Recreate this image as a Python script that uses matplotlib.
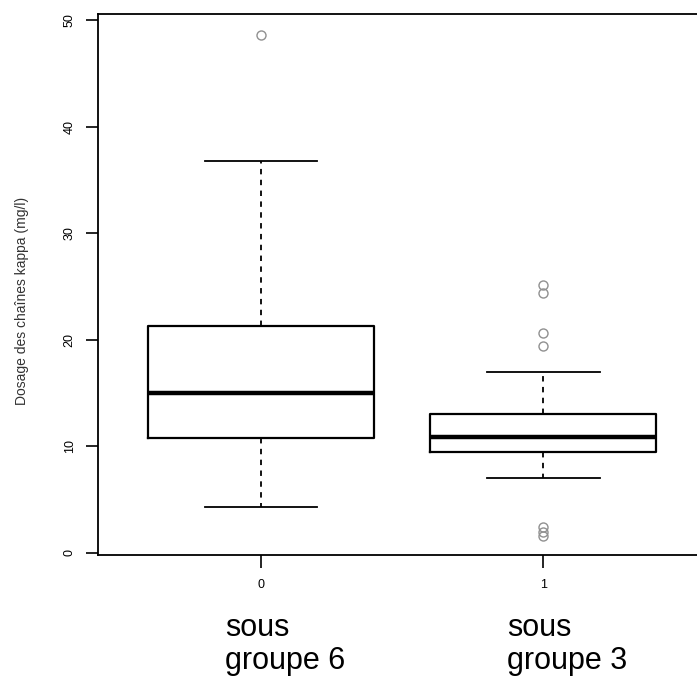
import matplotlib
matplotlib.use("Agg")
import matplotlib.pyplot as plt

plt.rcParams['font.family'] = ['Liberation Sans', 'DejaVu Sans']

# Box statistics (mg/l)
groups = ["0", "1"]
name_top = ["sous", "sous"]
name_bottom = ["groupe 6", "groupe 3"]
q1 = [10.8, 9.5]
med = [15.0, 10.9]
q3 = [21.3, 13.0]
whislo = [4.3, 7.0]
whishi = [36.8, 17.0]
fliers = [[48.6], [25.1, 24.4, 20.6, 19.4, 2.4, 2.0, 1.6]]

stats = []
for i in range(len(groups)):
    stats.append({"label": groups[i], "q1": q1[i], "med": med[i], "q3": q3[i],
                  "whislo": whislo[i], "whishi": whishi[i], "fliers": fliers[i]})

fig = plt.figure(figsize=(6.97, 6.76), dpi=100)
ax = fig.add_axes([98 / 697, 121 / 676, 620 / 697, 541 / 676])

ax.bxp(stats, positions=[0, 1], widths=0.8,
       boxprops=dict(color="black", linewidth=1.6),
       medianprops=dict(color="black", linewidth=3.2),
       whiskerprops=dict(color="black", linewidth=1.3, linestyle=(0, (3, 3))),
       capprops=dict(color="black", linewidth=1.3),
       flierprops=dict(marker="o", markerfacecolor="none", markeredgecolor="#909090",
                       markersize=6.5, markeredgewidth=1.0),
       capwidths=0.4)

ax.set_xlim(-0.578, 1.62)
ax.set_ylim(-0.19, 50.56)
ax.set_yticks([0, 10, 20, 30, 40, 50])
ax.set_yticklabels(["0", "10", "20", "30", "40", "50"], rotation=90, va="center")
ax.set_xticks([0, 1])
ax.set_xticklabels(groups)
ax.tick_params(axis="both", length=9, width=1.2, labelsize=9, colors="black", pad=7)
ax.tick_params(axis="x", pad=8)
for s in ax.spines.values():
    s.set_linewidth(1.3)

ax.set_ylabel("Dosage des chaînes kappa (mg/l)", fontsize=10, color="#333333")
ax.yaxis.set_label_coords(-0.112, 0.47)

# group names under the tick labels, two lines each
for i in range(len(groups)):
    x_fig = ax.transData.transform((i - 0.128, 0))[0] / fig.dpi / fig.get_figwidth()
    fig.text(x_fig, (676 - 636) / 676, name_top[i], fontsize=22, ha="left", va="baseline")
    fig.text(x_fig, (676 - 669) / 676, name_bottom[i], fontsize=22, ha="left", va="baseline")

fig.savefig("out.png", dpi=100)
